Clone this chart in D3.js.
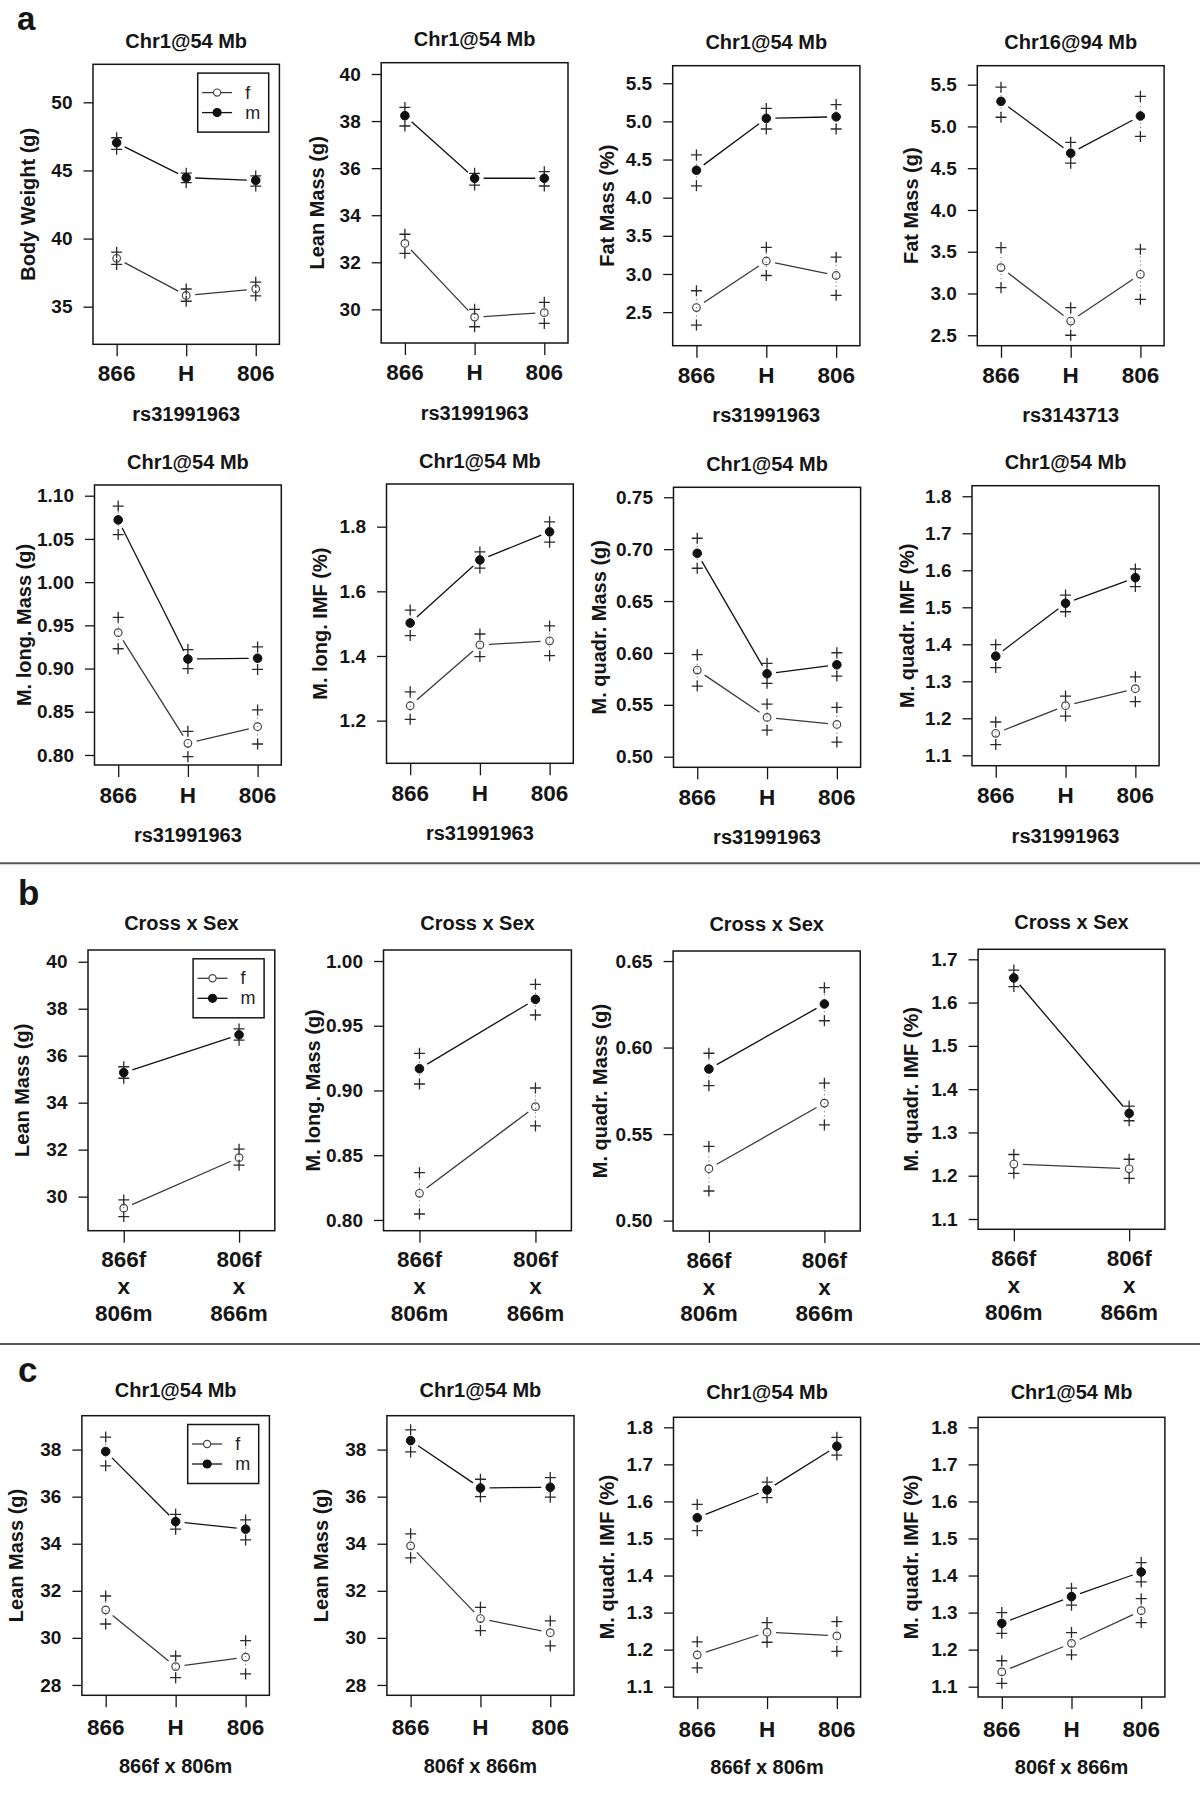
<!DOCTYPE html>
<html><head><meta charset="utf-8">
<script src="https://cdn.jsdelivr.net/npm/d3@7"></script>
<style>
body{margin:0;background:#fff;}
svg text{font-family:"Liberation Sans",Arial,Helvetica,sans-serif;}
</style></head><body>
<svg id="fig" width="1200" height="1793" xmlns="http://www.w3.org/2000/svg"></svg>
<script>
// ---------------- DATA ----------------
const genotypes = ["866", "H", "806"];
const crosses = ["866f x 806m", "806f x 866m"];
const crossLines = [["866f", "x", "806m"], ["806f", "x", "866m"]];
const panelLetters = ["a", "b", "c"];
const legendLabels = ["f", "m"];

const titles = ["Chr1@54 Mb","Chr1@54 Mb","Chr1@54 Mb","Chr16@94 Mb",
  "Chr1@54 Mb","Chr1@54 Mb","Chr1@54 Mb","Chr1@54 Mb",
  "Cross x Sex","Cross x Sex","Cross x Sex","Cross x Sex",
  "Chr1@54 Mb","Chr1@54 Mb","Chr1@54 Mb","Chr1@54 Mb"];
const yLabels = ["Body Weight (g)","Lean Mass (g)","Fat Mass (%)","Fat Mass (g)",
  "M. long. Mass (g)","M. long. IMF (%)","M. quadr. Mass (g)","M. quadr. IMF (%)",
  "Lean Mass (g)","M. long. Mass (g)","M. quadr. Mass (g)","M. quadr. IMF (%)",
  "Lean Mass (g)","Lean Mass (g)","M. quadr. IMF (%)","M. quadr. IMF (%)"];
const xLabels = ["rs31991963","rs31991963","rs31991963","rs3143713",
  "rs31991963","rs31991963","rs31991963","rs31991963",
  "","","","",
  "866f x 806m","806f x 866m","866f x 806m","806f x 866m"];
const xCategoryKind = ["g","g","g","g","g","g","g","g","c","c","c","c","g","g","g","g"];

const yTicks = [
  [35,40,45,50],[30,32,34,36,38,40],[2.5,3,3.5,4,4.5,5,5.5],[2.5,3,3.5,4,4.5,5,5.5],
  [0.8,0.85,0.9,0.95,1.0,1.05,1.1],[1.2,1.4,1.6,1.8],[0.5,0.55,0.6,0.65,0.7,0.75],[1.1,1.2,1.3,1.4,1.5,1.6,1.7,1.8],
  [30,32,34,36,38,40],[0.8,0.85,0.9,0.95,1.0],[0.5,0.55,0.6,0.65],[1.1,1.2,1.3,1.4,1.5,1.6,1.7],
  [28,30,32,34,36,38],[28,30,32,34,36,38],[1.1,1.2,1.3,1.4,1.5,1.6,1.7,1.8],[1.1,1.2,1.3,1.4,1.5,1.6,1.7,1.8]];
const yTickDecimals = [0,0,1,1, 2,1,2,1, 0,2,2,1, 0,0,1,1];
const yDomains = [
  [32.24,52.79],[28.57,40.48],[2.06,5.73],[2.375,5.727],
  [0.7884,1.1124],[1.068,1.932],[0.4898,0.7596],[1.0719,1.8286],
  [28.55,40.5],[0.7917,1.0085],[0.494,0.6558],[1.0762,1.7231],
  [27.56,39.44],[27.56,39.44],[1.0722,1.827],[1.0722,1.827]];

// males (filled) : mean, upper, lower
const mMean = [[47.03,44.47,44.27],[38.23,35.57,35.57],[4.36,5.04,5.06],[5.30,4.68,5.125],
  [1.072,0.911,0.912],[1.502,1.697,1.784],[0.696,0.580,0.5886],[1.368,1.511,1.58],
  [35.28,36.89],[0.9168,0.9704],[0.5876,0.6252],[1.657,1.344],
  [37.92,34.94,34.62],[38.38,36.37,36.4],[1.556,1.631,1.749],[1.271,1.343,1.4095]];
const mHi = [[47.4,44.8,44.6],[38.58,35.78,35.85],[4.56,5.17,5.22],[5.47,4.81,5.36],
  [1.088,0.922,0.925],[1.542,1.722,1.815],[0.7105,0.590,0.6002],[1.399,1.533,1.6035],
  [35.53,37.14],[0.9287,0.982],[0.5967,0.6346],[1.675,1.361],
  [38.53,35.25,35.01],[38.84,36.74,36.81],[1.592,1.652,1.773],[1.30,1.366,1.435]];
const mLo = [[46.55,44.1,43.85],[37.79,35.28,35.24],[4.155,4.90,4.90],[5.11,4.56,4.88],
  [1.055,0.900,0.899],[1.463,1.672,1.752],[0.6816,0.5707,0.5777],[1.337,1.488,1.556],
  [35.04,36.66],[0.905,0.9583],[0.578,0.6155],[1.637,1.327],
  [37.31,34.62,34.16],[37.9,36.0,35.98],[1.521,1.61,1.725],[1.244,1.32,1.383]];
// females (open) : mean, upper, lower
const fMean = [[38.55,35.83,36.3],[32.8,29.67,29.86],[2.56,3.17,2.98],[3.31,2.67,3.23],
  [0.9415,0.8135,0.8327],[1.246,1.434,1.447],[0.5835,0.5379,0.5311],[1.1595,1.234,1.28],
  [29.51,31.66],[0.8206,0.8875],[0.53,0.5679],[1.227,1.216],
  [31.19,28.78,29.18],[33.91,30.82,30.22],[1.186,1.247,1.237],[1.14,1.217,1.305]];
const fHi = [[39.0,36.3,36.8],[33.19,30.0,30.3],[2.78,3.35,3.22],[3.55,2.83,3.53],
  [0.9593,0.8274,0.8521],[1.289,1.468,1.493],[0.5983,0.5507,0.5475],[1.19,1.26,1.312],
  [29.86,32.02],[0.8365,0.9019],[0.5429,0.5794],[1.249,1.238],
  [31.78,29.23,29.88],[34.42,31.3,30.72],[1.221,1.273,1.2755],[1.17,1.246,1.3375]];
const fLo = [[38.1,35.4,35.8],[32.38,29.26,29.4],[2.33,2.98,2.72],[3.07,2.50,2.93],
  [0.9229,0.798,0.8127],[1.204,1.398,1.401],[0.5681,0.5256,0.5141],[1.129,1.206,1.245],
  [29.15,31.34],[0.8046,0.8726],[0.5171,0.5553],[1.2055,1.194],
  [30.59,28.31,28.47],[33.4,30.31,29.66],[1.151,1.22,1.1955],[1.109,1.186,1.273]];

// ---------------- LAYOUT (pixel boxes, separate from data) ----------------
const boxes = [
  [93,279.4,64.3,344.3],[381.2,568,62.7,343],[672.7,859.9,65.7,345.7],[977.3,1164.1,65.7,345.7],
  [94.5,281.3,485,765],[386.5,573.3,484,763.3],[673.5,860.6,487.3,767.3],[972,1159.1,485.7,765.7],
  [88,274.8,950,1230.7],[383.5,571.4,950,1230.7],[673.1,860.2,951,1231],[978.1,1164.9,949.3,1229.3],
  [81.9,269.4,1415.7,1695.3],[386.9,574,1415.7,1695.3],[673.5,860.6,1417.3,1697],[978.1,1164.9,1417.3,1697]];
const yLabelOffset = [65.4,64.5,66,67, 70.5,67,74.5,65.6, 66.4,71,73,67, 66.6,66.4,66.8,67];
const rowStyle = {
  a1: {title: 23.5, tick: 37, xt: 76.5},
  a2: {title: 23.5, tick: 37.7, xt: 77},
  b:  {title: 27.3, tick: 36.6, xt: 0},
  c:  {title: 25.7, tick: 39.7, xt: 77.4}
};
const rowOf = i => i < 4 ? "a1" : i < 8 ? "a2" : i < 12 ? "b" : "c";
const legendPanels = [0, 8, 12];

// ---------------- DRAW ----------------
const svg = d3.select("#fig");
const INK = "#151515";

// separators
[863.3, 1344].forEach(y => {
  svg.append("line").attr("x1", 0).attr("x2", 1200).attr("y1", y).attr("y2", y)
    .attr("stroke", "#555").attr("stroke-width", 2);
});
// panel letters
[[17, 30, 33], [18, 905, 35], [18, 1382, 35]].forEach((p, k) => {
  svg.append("text").attr("x", p[0]).attr("y", p[1]).text(panelLetters[k])
    .attr("font-size", p[2]).attr("font-weight", "bold").attr("fill", INK);
});

function plus(g, x, y, col) {
  const s = 5.5;
  g.append("path").attr("d", `M${x - s},${y}H${x + s}M${x},${y - s}V${y + s}`)
    .attr("stroke", col).attr("stroke-width", 1.3).attr("fill", "none");
}

titles.forEach((title, i) => {
  const [x0, x1, y0, y1] = boxes[i];
  const rs = rowStyle[rowOf(i)];
  const cats = xCategoryKind[i] === "g" ? genotypes : crosses;
  const x = d3.scalePoint().domain(cats).range([x0, x1]).padding(cats.length === 3 ? 0.34 : 0.31);
  const y = d3.scaleLinear().domain(yDomains[i]).range([y1, y0]);
  const g = svg.append("g");

  // y axis
  const ya = g.append("g").attr("transform", `translate(${x0},0)`)
    .call(d3.axisLeft(y).tickValues(yTicks[i]).tickSize(9.5).tickPadding(11)
      .tickFormat(d3.format(`.${yTickDecimals[i]}f`)));
  ya.select(".domain").remove();
  ya.selectAll("line").attr("stroke", INK).attr("stroke-width", 1.3);
  ya.selectAll("text").attr("font-size", 19).attr("font-weight", "bold").attr("fill", INK)
    .attr("font-family", '"Liberation Sans",Arial,sans-serif');

  // x axis
  const xa = g.append("g").attr("transform", `translate(0,${y1})`)
    .call(d3.axisBottom(x).tickSize(12).tickFormat(""));
  xa.select(".domain").remove();
  xa.selectAll("line").attr("stroke", INK).attr("stroke-width", 1.3);
  xa.selectAll("text").remove();
  if (xCategoryKind[i] === "g") {
    cats.forEach(c => {
      g.append("text").attr("x", x(c)).attr("y", y1 + rs.tick).attr("text-anchor", "middle")
        .attr("font-size", 22.5).attr("font-weight", "bold").attr("fill", INK).text(c);
    });
  } else {
    cats.forEach((c, k) => {
      crossLines[k].forEach((ln, j) => {
        g.append("text").attr("x", x(c)).attr("y", y1 + rs.tick + j * 26.9).attr("text-anchor", "middle")
          .attr("font-size", 22.5).attr("font-weight", "bold").attr("fill", INK).text(ln);
      });
    });
  }

  // box
  g.append("rect").attr("x", x0).attr("y", y0).attr("width", x1 - x0).attr("height", y1 - y0)
    .attr("fill", "none").attr("stroke", INK).attr("stroke-width", 1.5);

  // title
  g.append("text").attr("x", (x0 + x1) / 2).attr("y", y0 - rs.title + 7.2).attr("text-anchor", "middle")
    .attr("font-size", 20).attr("font-weight", "bold").attr("fill", INK).text(title);
  // x title
  if (xLabels[i]) {
    g.append("text").attr("x", (x0 + x1) / 2).attr("y", y1 + rs.xt).attr("text-anchor", "middle")
      .attr("font-size", 20).attr("font-weight", "bold").attr("fill", INK).text(xLabels[i]);
  }
  // y title
  const cy = (y0 + y1) / 2, cx = x0 - yLabelOffset[i];
  g.append("text").attr("transform", `translate(${cx},${cy}) rotate(-90)`).attr("dy", "0.36em")
    .attr("text-anchor", "middle").attr("font-size", 20).attr("font-weight", "bold").attr("fill", INK)
    .text(yLabels[i]);

  // series
  const series = [
    {mean: fMean[i], hi: fHi[i], lo: fLo[i], filled: false, line: "#3a3a3a"},
    {mean: mMean[i], hi: mHi[i], lo: mLo[i], filled: true, line: "#111"}
  ];
  series.forEach(s => {
    // dotted CI
    cats.forEach((c, k) => {
      g.append("line").attr("x1", x(c)).attr("x2", x(c)).attr("y1", y(s.lo[k])).attr("y2", y(s.hi[k]))
        .attr("stroke", "#777").attr("stroke-width", 1).attr("stroke-dasharray", "1.2,3");
    });
    // connecting segments with gaps (type "b")
    for (let k = 0; k < cats.length - 1; k++) {
      const ax = x(cats[k]), ay = y(s.mean[k]), bx = x(cats[k + 1]), by = y(s.mean[k + 1]);
      const L = Math.hypot(bx - ax, by - ay), gap = 9;
      const ux = (bx - ax) / L, uy = (by - ay) / L;
      g.append("line").attr("x1", ax + ux * gap).attr("y1", ay + uy * gap)
        .attr("x2", bx - ux * gap).attr("y2", by - uy * gap)
        .attr("stroke", s.line).attr("stroke-width", 1.3);
    }
    cats.forEach((c, k) => {
      plus(g, x(c), y(s.hi[k]), "#2a2a2a");
      plus(g, x(c), y(s.lo[k]), "#2a2a2a");
    });
    cats.forEach((c, k) => {
      g.append("circle").attr("cx", x(c)).attr("cy", y(s.mean[k]))
        .attr("r", s.filled ? 4.3 : 3.8)
        .attr("fill", s.filled ? "#111" : "#fff")
        .attr("fill-opacity", s.filled ? 1 : 0)
        .attr("stroke", s.filled ? "#111" : "#444").attr("stroke-width", s.filled ? 1 : 1.2);
    });
  });

  // legend
  if (legendPanels.includes(i)) {
    const lw = 71, lh = 59, lx = x1 - 10.7 - lw, ly = y0 + 8.8;
    const lg = g.append("g");
    lg.append("rect").attr("x", lx).attr("y", ly).attr("width", lw).attr("height", lh)
      .attr("fill", "#fff").attr("stroke", INK).attr("stroke-width", 1.5);
    legendLabels.forEach((lab, k) => {
      const yy = ly + 19.5 + k * 20;
      const filled = lab === "m";
      lg.append("line").attr("x1", lx + 4.4).attr("x2", lx + 34.4).attr("y1", yy).attr("y2", yy)
        .attr("stroke", filled ? "#111" : "#3a3a3a").attr("stroke-width", 1.3);
      lg.append("circle").attr("cx", lx + 19.4).attr("cy", yy).attr("r", filled ? 4 : 3.6)
        .attr("fill", filled ? "#111" : "#fff").attr("stroke", filled ? "#111" : "#444")
        .attr("stroke-width", 1.2);
      lg.append("text").attr("x", lx + 47.5).attr("y", yy + 6).attr("font-size", 18)
        .attr("fill", "#222").text(lab);
    });
  }
});
</script>
</body></html>
